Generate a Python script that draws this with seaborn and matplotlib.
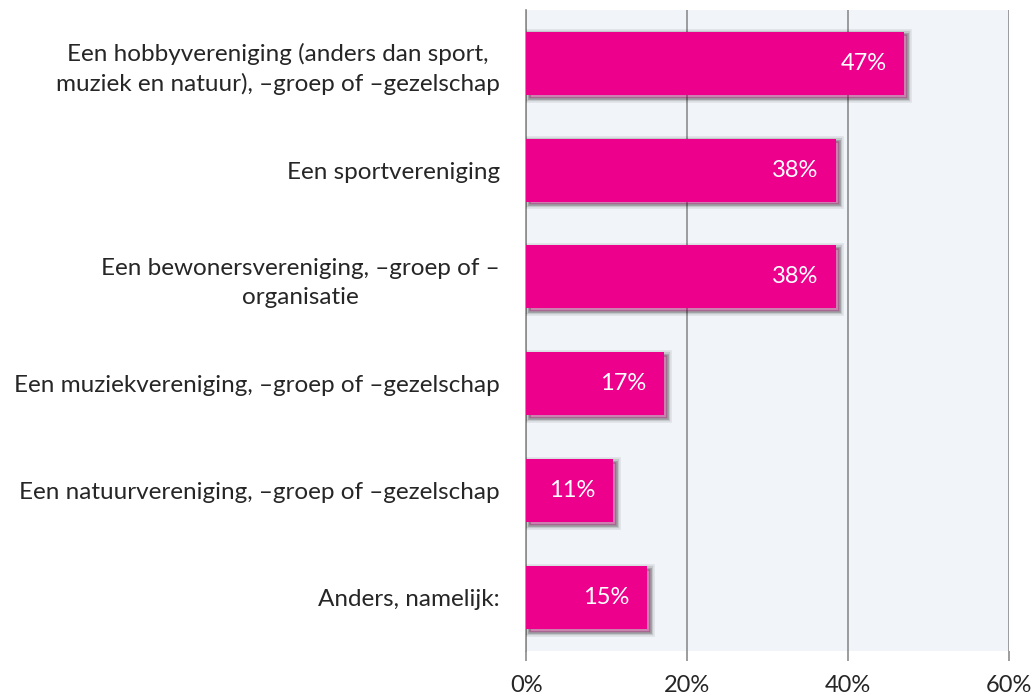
import matplotlib
matplotlib.use("Agg")
import matplotlib.pyplot as plt
import matplotlib.patheffects as pe
import pandas as pd
import seaborn as sns

categories = [
    "Een hobbyvereniging (anders dan sport,\nmuziek en natuur), \u2013groep of \u2013gezelschap",
    "Een sportvereniging",
    "Een bewonersvereniging, \u2013groep of \u2013\norganisatie",
    "Een muziekvereniging, \u2013groep of \u2013gezelschap",
    "Een natuurvereniging, \u2013groep of \u2013gezelschap",
    "Anders, namelijk:",
]
values = [47.0, 38.5, 38.5, 17.1, 10.8, 15.0]
x_ticks = [0, 20, 40, 60]

df = pd.DataFrame({"categorie": categories, "pct": values})

sns.set_theme(style="white")
plt.rcParams["font.family"] = ["Lato", "DejaVu Sans"]

fig, ax = plt.subplots(figsize=(10.36, 6.97), dpi=100)
fig.subplots_adjust(left=0.508, right=0.974, top=0.986, bottom=0.066)

sns.barplot(data=df, x="pct", y="categorie", color="#EC008C", saturation=1,
            width=0.59, ax=ax, zorder=3)

# soft drop shadow, roughly like the blurred office shadow
shadow = [
    pe.Stroke(linewidth=7, foreground="#000000", alpha=0.07, offset=(2, -2)),
    pe.Stroke(linewidth=4.5, foreground="#000000", alpha=0.12, offset=(2, -2)),
    pe.Stroke(linewidth=2, foreground="#000000", alpha=0.2, offset=(2, -2)),
    pe.Normal(),
]
for bar in ax.patches:
    bar.set_edgecolor("none")
    bar.set_path_effects(shadow)

for bar, v in zip(ax.patches, values):
    ax.annotate(f"{v:.0f}%", (bar.get_width(), bar.get_y() + bar.get_height() / 2),
                xytext=(-13, 0), textcoords="offset points", ha="right", va="center",
                color="white", fontsize=17, zorder=5)

ax.set_facecolor("#F1F5F9")
ax.set_xlim(0, 60)
ax.set_xticks(x_ticks)
ax.set_xticklabels([f"{t}%" for t in x_ticks], fontsize=17)
ax.xaxis.grid(True, color="#8C8C8C", linewidth=1.2, zorder=0)
ax.set_axisbelow(True)
ax.set_xlabel("")
ax.set_ylabel("")
for s in ["top", "right", "bottom"]:
    ax.spines[s].set_visible(False)
ax.spines["left"].set_color("#8C8C8C")
ax.spines["left"].set_linewidth(1.2)
ax.tick_params(axis="x", length=7, width=1.2, color="#8C8C8C", pad=10, bottom=True)
ax.tick_params(axis="y", length=0, pad=19)
for lbl in ax.get_yticklabels():
    lbl.set_fontsize(17.5)
    lbl.set_multialignment("center")
    lbl.set_linespacing(1.45)

fig.savefig("out.png", dpi=100)
